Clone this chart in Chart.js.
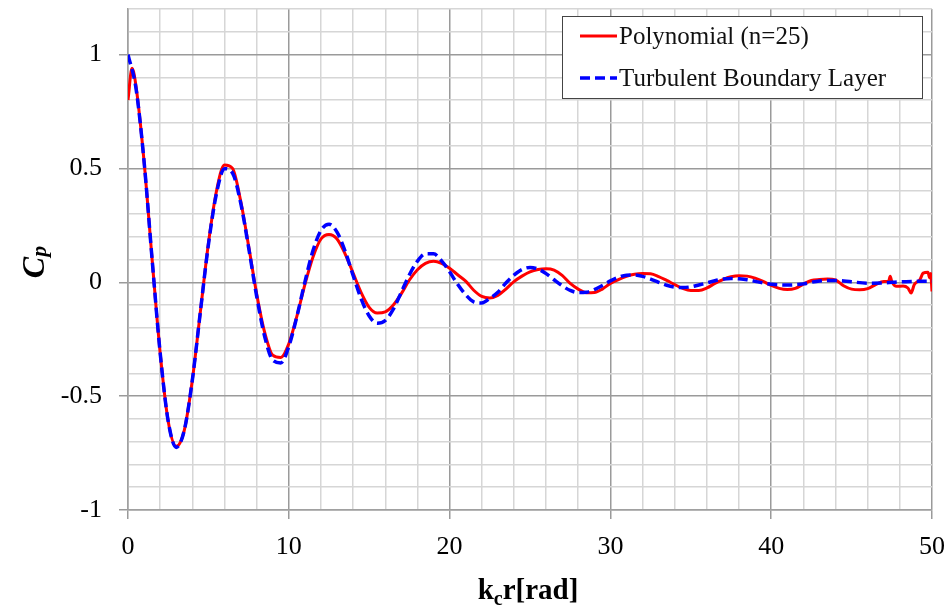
<!DOCTYPE html>
<html>
<head>
<meta charset="utf-8">
<script src="https://cdn.jsdelivr.net/npm/chart.js@4.4.0/dist/chart.umd.min.js"></script>
<style>
  html, body { margin:0; padding:0; background:#fff; }
  #wrap { width:952px; height:610px; }
</style>
</head>
<body>
<div id="wrap"><canvas id="cp-chart" width="952" height="610"></canvas></div>
<script>
// Cp vs k_c r — polynomial fit vs turbulent boundary layer model

const SERIES_NAMES = ['Polynomial (n=25)', 'Turbulent Boundary Layer'];

const POLY_X = [0,0.25,0.5,1,1.5,2,2.5,3,3.5,4,4.5,5,5.5,6,6.5,7,7.5,8,8.5,9,9.5,10,10.5,11,11.5,12,12.5,13,13.5,14,14.5,15,15.5,16,16.5,17,17.5,18,18.5,19,19.5,20,20.5,21,21.5,22,22.5,23,23.5,24,24.5,25,25.5,26,26.5,27,27.5,28,28.5,29,29.5,30,30.5,31,31.5,32,32.5,33,33.5,34,34.5,35,35.5,36,36.5,37,37.5,38,38.5,39,39.5,40,40.5,41,41.5,42,42.5,43,43.5,44,44.5,45,45.5,46,46.5,47,47.3,47.4,47.5,47.8,48.2,48.5,48.7,48.9,49.25,49.45,49.75,49.85,49.92,50];
const POLY_Y = [0.80,0.94,0.86,0.53,0.10,-0.31,-0.61,-0.72,-0.65,-0.43,-0.13,0.17,0.40,0.515,0.50,0.36,0.16,-0.05,-0.22,-0.32,-0.33,-0.27,-0.15,-0.01,0.11,0.19,0.21,0.19,0.125,0.04,-0.045,-0.11,-0.135,-0.13,-0.10,-0.05,0.01,0.055,0.083,0.092,0.083,0.062,0.033,0.005,-0.035,-0.062,-0.069,-0.058,-0.03,0.003,0.027,0.046,0.056,0.059,0.053,0.030,-0.005,-0.030,-0.046,-0.045,-0.030,-0.005,0.012,0.026,0.035,0.038,0.037,0.025,0.008,-0.010,-0.027,-0.036,-0.036,-0.025,-0.005,0.012,0.024,0.029,0.027,0.018,0.004,-0.014,-0.027,-0.032,-0.027,-0.008,0.008,0.012,0.014,0.010,-0.015,-0.030,-0.033,-0.028,-0.010,0.003,0.005,0.026,0.004,-0.018,-0.016,-0.025,-0.047,-0.010,0.012,0.040,0.044,0.020,0.038,-0.040];

const TBL_X = [0,0.5,1,1.5,2,2.5,3,3.5,4,4.5,5,5.5,6,6.5,7,7.5,8,8.5,9,9.5,10,10.5,11,11.5,12,12.5,13,13.5,14,14.5,15,15.5,16,16.5,17,17.5,18,18.5,19,19.5,20,20.5,21,21.5,22,22.5,23,23.5,24,24.5,25,25.5,26,26.5,27,27.5,28,28.5,29,29.5,30,30.5,31,31.5,32,32.5,33,33.5,34,34.5,35,35.5,36,36.5,37,37.5,38,38.5,39,39.5,40,41,42,43,44,45,46,47,48,49,50];
const TBL_Y = [1.000,0.85,0.53,0.10,-0.31,-0.61,-0.725,-0.65,-0.43,-0.13,0.165,0.389,0.499,0.48,0.351,0.153,-0.061,-0.238,-0.342,-0.354,-0.282,-0.151,0.001,0.138,0.228,0.255,0.220,0.137,0.030,-0.073,-0.148,-0.180,-0.168,-0.118,-0.043,0.033,0.093,0.125,0.125,0.094,0.046,-0.009,-0.055,-0.086,-0.091,-0.071,-0.044,-0.003,0.031,0.056,0.065,0.058,0.038,0.011,-0.015,-0.036,-0.045,-0.044,-0.032,-0.014,0.006,0.022,0.031,0.032,0.026,0.014,0.000,-0.013,-0.021,-0.023,-0.020,-0.012,-0.003,0.007,0.014,0.017,0.015,0.011,0.004,-0.003,-0.009,-0.012,-0.007,0.006,0.008,0.002,-0.004,-0.003,0.002,0.004,0.005];

const X_MIN = 0, X_MAX = 50, X_STEP = 2, X_LABEL_EVERY = 10;
const Y_MIN = -1, Y_MAX = 1.2, Y_STEP = 0.1, Y_LABEL_EVERY = 0.5;

const RED = '#ff0000';
const BLUE = '#0000ff';
const SERIF = '"Liberation Serif", "Times New Roman", serif';

function isMult(v, m){ return Math.abs(v/m - Math.round(v/m)) < 1e-6; }
function pts(xs, ys){ return xs.map((x,i)=>({x, y:ys[i]})); }

// axis titles with subscripts + boxed legend inside the plot
const decorPlugin = {
  id:'decor',
  afterDraw(chart){
    const {ctx, chartArea} = chart;
    ctx.save();
    ctx.fillStyle = '#000';
    ctx.textBaseline = 'alphabetic';

    // y title: C_p, rotated
    ctx.translate(44, 262);
    ctx.rotate(-Math.PI/2);
    ctx.font = 'bold italic 32px ' + SERIF;
    const cw = ctx.measureText('C').width;
    const pf = 'bold italic 22px ' + SERIF;
    ctx.font = pf;
    const pw = ctx.measureText('p').width;
    const tot = cw + pw;
    ctx.font = 'bold italic 32px ' + SERIF;
    ctx.fillText('C', -tot/2, 0);
    ctx.font = pf;
    ctx.fillText('p', -tot/2 + cw, 2);
    ctx.setTransform(1,0,0,1,0,0);

    // x title: k_c r[rad]
    const bigF = 'bold 29px ' + SERIF, subF = 'bold 20px ' + SERIF;
    ctx.font = bigF; const kw = ctx.measureText('k').width; const rw = ctx.measureText('r[rad]').width;
    ctx.font = subF; const sw = ctx.measureText('c').width;
    const cx = (chartArea.left + chartArea.right)/2 - 2;
    let x0 = cx - (kw+sw+rw)/2;
    const base = 599;
    ctx.font = bigF; ctx.fillText('k', x0, base);
    ctx.font = subF; ctx.fillText('c', x0+kw, base+6);
    ctx.font = bigF; ctx.fillText('r[rad]', x0+kw+sw, base);

    // legend box
    const bx = 562, by = 16, bw = 360, bh = 82;
    ctx.fillStyle = '#fff';
    ctx.fillRect(bx, by, bw, bh);
    ctx.strokeStyle = '#444';
    ctx.lineWidth = 1;
    ctx.strokeRect(bx+0.5, by+0.5, bw, bh);
    const rows = chart.data.datasets.slice().sort((a,b)=>SERIES_NAMES.indexOf(a.label)-SERIES_NAMES.indexOf(b.label));
    const rowY = [36, 78];
    ctx.font = '25px ' + SERIF;
    ctx.textBaseline = 'middle';
    rows.forEach((ds, i) => {
      const y = rowY[i];
      ctx.beginPath();
      ctx.strokeStyle = ds.borderColor;
      ctx.lineWidth = ds.borderWidth;
      ctx.setLineDash(ds.borderDash || []);
      ctx.moveTo(580, y); ctx.lineTo(617, y);
      ctx.stroke();
      ctx.setLineDash([]);
      ctx.fillStyle = '#111';
      ctx.fillText(ds.label, 619, y + 1);
    });
    ctx.restore();
  }
};

new Chart(document.getElementById('cp-chart'), {
  type:'line',
  data:{
    datasets:[
      { label:SERIES_NAMES[1], data:pts(TBL_X, TBL_Y), borderColor:BLUE, borderWidth:3.5, borderDash:[10,5],
        pointRadius:0, cubicInterpolationMode:'monotone', order:0, fill:false },
      { label:SERIES_NAMES[0], data:pts(POLY_X, POLY_Y), borderColor:RED, borderWidth:3,
        pointRadius:0, cubicInterpolationMode:'monotone', order:1, fill:false }
    ]
  },
  options:{
    responsive:false, animation:false, devicePixelRatio:1,
    layout:{ padding:{ left:0, right:20, top:9, bottom:0 } },
    plugins:{ legend:{ display:false }, tooltip:{ enabled:false } },
    scales:{
      x:{
        type:'linear', min:X_MIN, max:X_MAX,
        afterFit(s){ s.height = 100; s.paddingLeft = 0; s.paddingRight = 0; },
        border:{ color:'#a0a0a0', width:1.5 },
        grid:{
          color: c => isMult(c.tick.value, X_LABEL_EVERY) ? '#9a9a9a' : '#d6d6d6',
          tickColor: c => isMult(c.tick.value, X_LABEL_EVERY) ? '#9a9a9a' : 'rgba(0,0,0,0)',
          lineWidth:1.5, tickLength:9
        },
        ticks:{
          stepSize:X_STEP, autoSkip:false, maxRotation:0, padding:13, color:'#000',
          font:{ family:SERIF, size:26 },
          callback: v => isMult(v, X_LABEL_EVERY) ? String(Math.round(v)) : ''
        }
      },
      y:{
        type:'linear', min:Y_MIN, max:Y_MAX,
        afterFit(s){ s.width = 128; s.paddingTop = 0; s.paddingBottom = 0; },
        border:{ color:'#a0a0a0', width:1.5 },
        grid:{
          color: c => isMult(c.tick.value, Y_LABEL_EVERY) ? '#9a9a9a' : '#d6d6d6',
          tickColor: c => isMult(c.tick.value, Y_LABEL_EVERY) ? '#9a9a9a' : 'rgba(0,0,0,0)',
          lineWidth:1.5, tickLength:9
        },
        ticks:{
          stepSize:Y_STEP, autoSkip:false, padding:17, color:'#000',
          font:{ family:SERIF, size:26 },
          callback: v => isMult(v, Y_LABEL_EVERY) ? String(Math.round(v*10)/10) : ''
        }
      }
    }
  },
  plugins:[decorPlugin]
});
</script>
</body>
</html>
